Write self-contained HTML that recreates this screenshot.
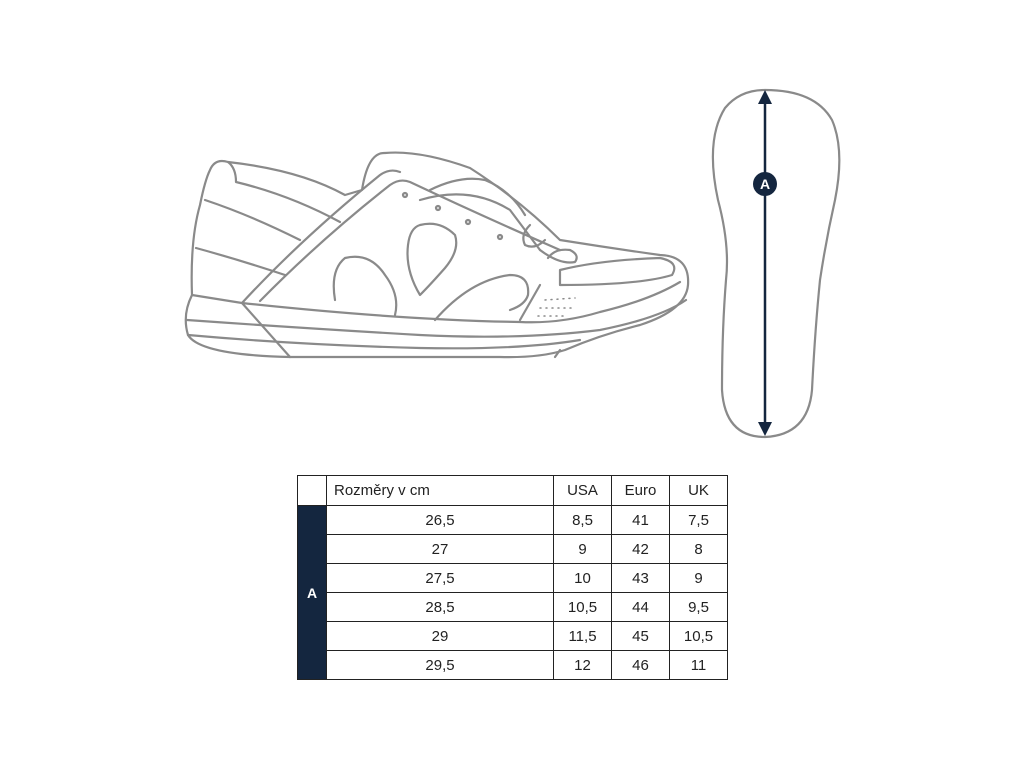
<!DOCTYPE html>
<html><head><style>
body{margin:0;width:1024px;height:768px;background:#fff;position:relative;font-family:"Liberation Sans",sans-serif;overflow:hidden}
table{position:absolute;left:297px;top:475px;width:430px;height:203px;border-collapse:collapse;table-layout:fixed;font-size:15px;color:#222}
td{border:1.5px solid #222;height:28px;padding:0;text-align:center}
.a{background:#14263f;color:#fff;font-weight:bold;font-size:14px}
</style></head><body>
<svg width="1024" height="768" style="position:absolute;left:0;top:0" fill="none" stroke="#8a8a8a" stroke-width="2.2" stroke-linejoin="round" stroke-linecap="round">
<path d="M210,170 Q215,158 228,162 Q300,170 345,195 L362,190 Q368,152 385,153 Q420,150 470,168 Q520,200 560,240 Q610,248 660,255 Q690,256 688,285 Q686,310 640,325 Q600,335 565,350 Q540,358 500,357 L290,357 Q200,355 188,335 Q182,315 192,295 Q190,240 200,205 Q205,180 210,170 Z"/>
<path d="M228,162 Q236,168 236,182 Q290,195 340,222"/>
<path d="M205,200 Q250,215 300,240"/>
<path d="M196,248 Q240,260 285,275"/>
<path d="M192,295 L242,303 Q400,320 520,322 Q560,324 600,312 Q650,300 680,282"/>
<path d="M187,320 Q300,328 420,335 Q520,340 600,330 Q660,318 686,300"/>
<path d="M188,335 Q300,345 420,348 Q520,350 580,340"/>
<path d="M242,303 L290,357"/>
<path d="M560,350 L555,357"/>
<path d="M242,303 Q300,240 380,175 Q390,168 400,172"/>
<path d="M260,301 Q320,240 390,185 Q400,178 410,182 Q480,215 560,250"/>
<path d="M430,190 Q460,175 485,180 Q510,190 525,215"/>
<path d="M420,200 Q470,185 510,210 L540,250"/>
<path d="M540,250 Q560,265 575,262 Q580,255 570,250 Q555,248 548,258"/>
<path d="M530,225 Q520,235 525,245 Q535,250 545,240"/>
<path d="M560,270 Q600,260 660,258 Q680,262 672,275 Q640,285 560,285 Z"/>
<path d="M335,300 Q330,270 345,258 Q370,252 385,275 Q400,295 395,315"/>
<path d="M420,225 Q440,220 455,235 Q460,250 445,268 Q430,285 420,295 Q405,270 408,245 Q410,228 420,225 Z"/>
<path d="M435,320 Q470,280 510,275 Q530,275 528,295 Q525,305 510,310"/>
<path d="M540,285 L520,320"/>
<circle cx="405" cy="195" r="2"/><circle cx="438" cy="208" r="2"/><circle cx="468" cy="222" r="2"/><circle cx="500" cy="237" r="2"/>
<g stroke-width="1.5" stroke-dasharray="1 5"><path d="M545,300 L575,298"/><path d="M540,308 L572,308"/><path d="M538,316 L568,316"/></g>
<path d="M765,90 Q815,90 832,120 Q845,150 835,200 Q826,240 820,280 Q815,330 812,390 Q808,435 765,437 Q725,437 722,390 Q722,330 726,280 Q730,245 718,200 Q705,140 725,108 Q740,90 765,90 Z"/>
</svg>
<svg width="1024" height="768" style="position:absolute;left:0;top:0">
<line x1="765" y1="100" x2="765" y2="426" stroke="#14263f" stroke-width="2.5"/>
<path d="M758,104 L765,90 L772,104 Z M758,422 L765,436 L772,422 Z" fill="#14263f"/>
<circle cx="765" cy="184" r="12" fill="#14263f"/>
<text x="765" y="189" text-anchor="middle" font-family="Liberation Sans" font-weight="bold" font-size="14" fill="#fff">A</text>
</svg>
<table>
<colgroup><col style="width:29px"><col style="width:227px"><col style="width:58px"><col style="width:58px"><col style="width:58px"></colgroup>
<tr><td style="height:29px"></td><td style="text-align:left;padding-left:7px">Rozměry v cm</td><td>USA</td><td>Euro</td><td>UK</td></tr>
<tr><td class="a" rowspan="6">A</td><td>26,5</td><td>8,5</td><td>41</td><td>7,5</td></tr>
<tr><td>27</td><td>9</td><td>42</td><td>8</td></tr>
<tr><td>27,5</td><td>10</td><td>43</td><td>9</td></tr>
<tr><td>28,5</td><td>10,5</td><td>44</td><td>9,5</td></tr>
<tr><td>29</td><td>11,5</td><td>45</td><td>10,5</td></tr>
<tr><td>29,5</td><td>12</td><td>46</td><td>11</td></tr>
</table>
</body></html>
